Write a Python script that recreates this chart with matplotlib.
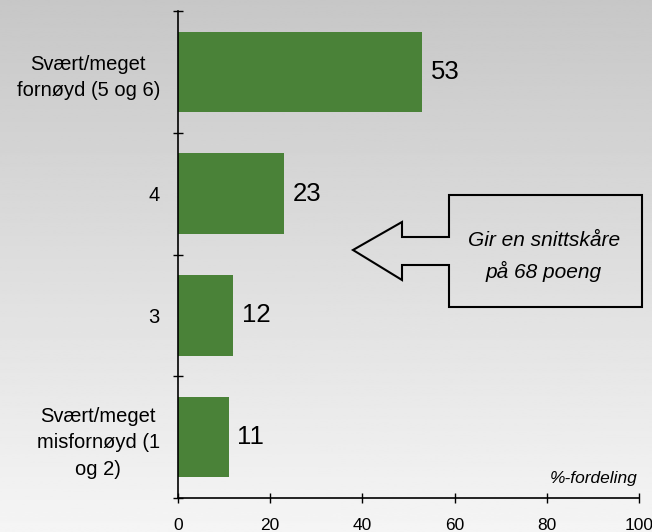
import matplotlib.pyplot as plt
import numpy as np
from matplotlib.patches import Polygon

plt.rcParams['font.family'] = ['Liberation Sans', 'DejaVu Sans']

# data
kategorier = ['Svært/meget\nfornøyd (5 og 6)', '4', '3', 'Svært/meget\nmisfornøyd (1\nog 2)']
verdier = [53, 23, 12, 11]
xticks = [0, 20, 40, 60, 80, 100]

W, H = 652, 532
fig = plt.figure(figsize=(W / 100, H / 100), dpi=100)

# bakgrunn med gradient
bg = fig.add_axes([0, 0, 1, 1], zorder=-10)
grad = np.linspace(0.78, 0.96, 256).reshape(-1, 1)
bg.imshow(grad, aspect='auto', cmap='gray', vmin=0, vmax=1, extent=[0, 1, 0, 1], origin='upper')
bg.axis('off')

ax = fig.add_axes([178 / W, 34 / H, (639 - 178) / W, (498 - 11) / H])
ax.patch.set_alpha(0)

y = np.arange(len(kategorier))
ax.barh(y, verdier, height=0.66, color='#4a8238')
for yi, v in zip(y, verdier):
    ax.text(v + 1.9, yi, str(v), va='center', ha='left', fontsize=18.5)

ax.set_xlim(0, 100)
ax.set_ylim(len(kategorier) - 0.5, -0.5)
ax.set_xticks(xticks)
ax.set_xticklabels([str(t) for t in xticks], fontsize=12.5)
ax.set_yticks(y)
ax.set_yticklabels(kategorier, fontsize=14.5, ha='right', multialignment='center',
                   linespacing=1.5)
ax.tick_params(axis='y', length=0, pad=13)
ax.set_yticks(np.arange(-0.5, len(kategorier)), minor=True)
ax.tick_params(axis='y', which='minor', direction='inout', length=7.2, width=1)
ax.tick_params(axis='x', direction='inout', length=7.2, width=1, pad=11)
for s in ['top', 'right']:
    ax.spines[s].set_visible(False)
ax.spines['left'].set_linewidth(1.2)
ax.spines['bottom'].set_linewidth(1.2)

ax.text(0.997, 0.025, '%-fordeling', transform=ax.transAxes, ha='right', va='bottom',
        fontsize=12.5, style='italic')

# pil med tekstboks (i pikselkoordinater)
pts = [(353, 250), (402, 222), (402, 237), (449, 237), (449, 195), (642, 195),
       (642, 307), (449, 307), (449, 265), (402, 265), (402, 280)]
pts = [(px / W, 1 - py / H) for px, py in pts]
fig.patches.append(Polygon(pts, closed=True, fill=False, edgecolor='black', lw=1.5,
                           transform=fig.transFigure, figure=fig))
fig.text(544 / W, 1 - 240 / H, 'Gir en snittskåre', ha='center', va='center',
         fontsize=15, style='italic')
fig.text(544 / W, 1 - 271 / H, 'på 68 poeng', ha='center', va='center',
         fontsize=15, style='italic')

fig.savefig('out.png', dpi=100)
